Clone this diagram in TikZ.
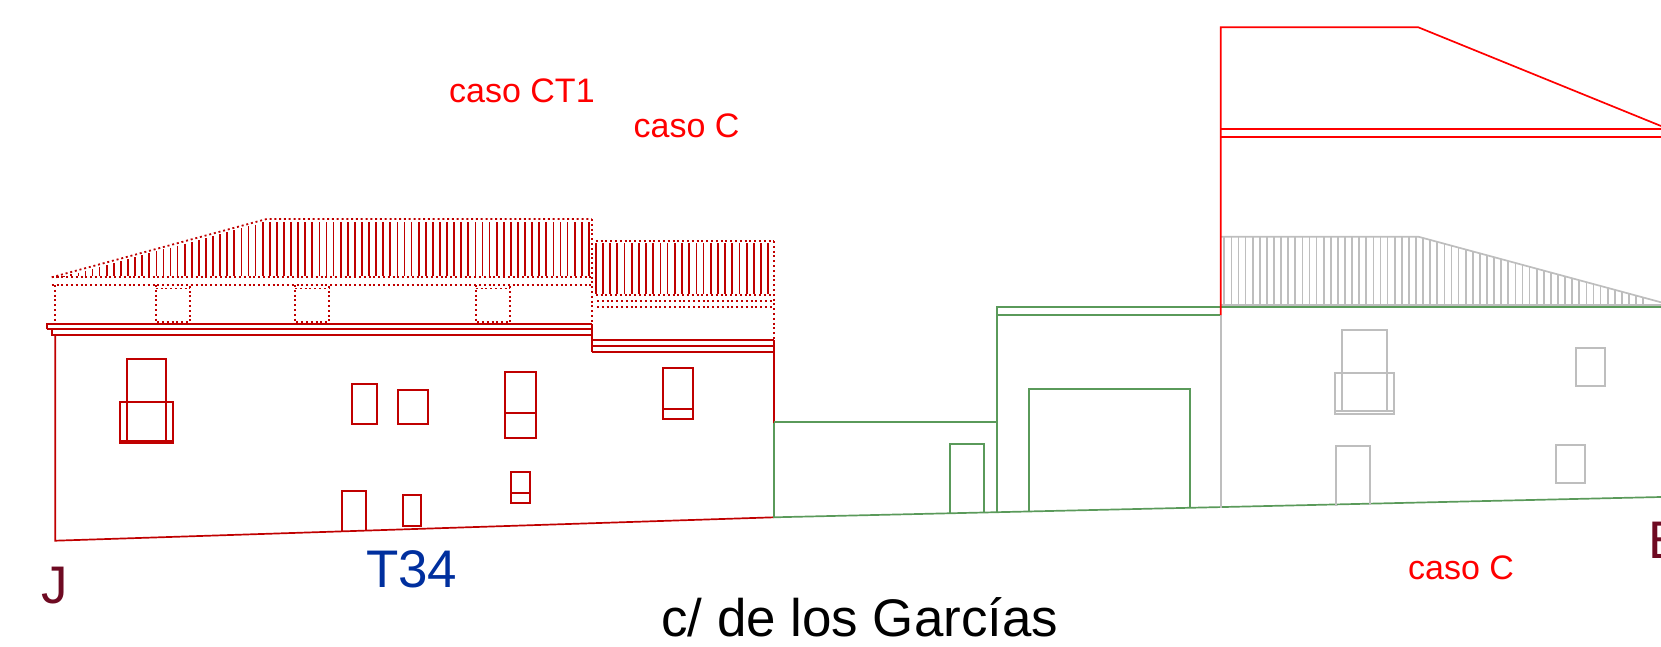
\documentclass[tikz,border=0pt]{standalone}
\usepackage{fontspec}
\setmainfont{Liberation Sans}
\definecolor{muroRojo}{HTML}{C00000}
\definecolor{casoRojo}{HTML}{FF0000}
\definecolor{muroVerde}{HTML}{5A9A5A}
\definecolor{muroGris}{HTML}{BEBEBE}
\definecolor{letraAzul}{HTML}{002F9E}
\definecolor{letraGrana}{HTML}{6E0A22}
\tikzset{
  rojo/.style={draw=muroRojo, line width=1.7pt},
  rojopunto/.style={draw=muroRojo, line width=1.8pt, dash pattern=on 2pt off 2.8pt},
  verde/.style={draw=muroVerde, line width=1.7pt},
  gris/.style={draw=muroGris, line width=1.7pt},
  volumen/.style={draw=casoRojo, line width=1.7pt},
  caso/.style={text=casoRojo, inner sep=0pt, anchor=base west, font=\fontsize{34}{36}\selectfont},
  rotulo/.style={inner sep=0pt, anchor=base west, font=\fontsize{52.9}{56}\selectfont},
}
\begin{document}
\begin{tikzpicture}[x=1pt,y=-1pt]
\useasboundingbox (0,0) rectangle (1661,647);

% casa J, cuerpo izquierdo
\draw[rojo] (55.3,334.7) -- (55.3,540.7) -- (774,517.3);
\draw[rojo] (47.3,329.3) -- (47.3,324) -- (591.7,324);
\draw[rojo] (47.3,329.3) -- (591.7,329.3);
\draw[rojo] (51.7,329.3) -- (51.7,334.7) -- (591.7,334.7);
\draw[rojo] (591.7,324) -- (591.7,351.7);
\draw[rojo] (591.7,340.3) -- (774,340.3);
\draw[rojo] (591.7,346) -- (774,346);
\draw[rojo] (591.7,351.7) -- (774,351.7);
\draw[rojo] (774,340.3) -- (774,423);

% cubierta de puntos
\draw[rojopunto] (51.7,277.3) -- (266.7,219) -- (591.7,219);
\draw[rojopunto] (51.7,277.3) -- (591.7,277.3);
\draw[rojopunto] (51.7,285) -- (591.7,285);
\draw[rojopunto] (55.3,285) -- (55.3,324);
\draw[rojopunto] (591.7,219) -- (591.7,324);
\draw[rojopunto] (595.7,241) -- (774,241);
\draw[rojopunto] (595.7,295) -- (774,295);
\draw[rojopunto] (597,301) -- (774,301);
\draw[rojopunto] (597,306.7) -- (774,306.7);
\draw[rojopunto] (774,241) -- (774,340.3);
\foreach \xa/\xb in {155.7/190, 295/329.3, 475.7/510.3} {
  \draw[rojopunto] (\xa,285) -- (\xa,322) -- (\xb,322) -- (\xb,285);
  \draw[rojopunto] (\xa,288.5) -- (\xb,288.5);
}
\foreach \k in {0,...,46} {
  \pgfmathsetmacro\hx{262.7+7.09*(\k-0)}
  \draw[rojo] (\hx,222) -- (\hx,276);
}
\foreach \k in {1,...,29} {
  \pgfmathsetmacro\hx{262.7-7.09*\k}
  \pgfmathsetmacro\hy{277.3-(\hx-51.7)*0.2712}
  \draw[rojo] (\hx,\hy+2.5) -- (\hx,276);
}
\foreach \k in {0,...,24} {
  \pgfmathsetmacro\hx{595.7+7.19*\k}
  \draw[rojo] (\hx,243) -- (\hx,294);
}

% ventanas de la casa J
\draw[rojo] (127,440.7) -- (127,359) -- (166,359) -- (166,440.7);
\draw[rojo] (120,402.3) rectangle (172.7,443.3);
\draw[rojo] (120,440.7) -- (172.7,440.7);
\draw[rojo] (352,383.7) rectangle (376.7,424);
\draw[rojo] (398.3,390) rectangle (428.3,424);
\draw[rojo] (505.3,372) rectangle (536,438);
\draw[rojo] (505.3,413) -- (536,413);
\draw[rojo] (662.7,368) rectangle (693.3,419.3);
\draw[rojo] (662.7,409) -- (693.3,409);
\draw[rojo] (341.7,530.7) -- (341.7,491.3) -- (366.2,491.3) -- (366.2,530);
\draw[rojo] (403,495) rectangle (421.3,526.3);
\draw[rojo] (511.3,471.7) rectangle (530,502.7);
\draw[rojo] (511.3,493) -- (530,493);

% tramo verde
\draw[verde] (774,423) -- (774,517.3) -- (1661,497);
\draw[verde] (774,422.3) -- (997.3,422.3);
\draw[verde] (997.3,512.2) -- (997.3,307.3) -- (1661,307.3);
\draw[verde] (997.3,315) -- (1220.7,315);
\draw[verde] (950,513.3) -- (950,443.7) -- (984,443.7) -- (984,512.5);
\draw[verde] (1029.3,511.5) -- (1029.3,389) -- (1190,389) -- (1190,508);

% casa E, en gris
\draw[gris] (1220.7,315) -- (1220.7,508);
\draw[gris] (1220.7,305) -- (1661,305);
\draw[gris] (1220.7,236.7) -- (1418.3,236.7) -- (1661,302.3);
\foreach \k in {0,...,59} {
  \pgfmathsetmacro\hx{1224.3+7.1*\k}
  \pgfmathsetmacro\hy{\hx<1418.3 ? 236.7 : 236.7+(\hx-1418.3)*0.2703}
  \draw[gris] (\hx,\hy) -- (\hx,305);
}
\draw[gris] (1342,411) -- (1342,329.7) -- (1387.3,329.7) -- (1387.3,411);
\draw[gris] (1335,373.3) rectangle (1394.3,414);
\draw[gris] (1335,411) -- (1394.3,411);
\draw[gris] (1576.3,347.7) rectangle (1604.7,385.7);
\draw[gris] (1335.7,505.5) -- (1335.7,446) -- (1370.3,446) -- (1370.3,504.5);
\draw[gris] (1556,444.7) rectangle (1584.7,482.7);

% volumen en rojo
\draw[volumen] (1220.7,315) -- (1220.7,27.3) -- (1418.3,27.3) -- (1661,126);
\draw[volumen] (1220.7,129) -- (1661,129);
\draw[volumen] (1220.7,136.7) -- (1661,136.7);

% rotulos
\node[caso] (casoCT) at (449,103) {caso CT1};
\node[caso] (casoCa) at (633.5,138) {caso C};
\node[caso] (casoCb) at (1408,579.3) {caso C};
\node[rotulo, text=letraGrana] (letraJ) at (41,603.5) {J};
\node[rotulo, text=letraAzul] (letraT) at (366,587.7) {T34};
\node[rotulo, text=letraGrana] (letraE) at (1648.6,558.3) {E};
\node[rotulo] (calle) at (661,636) {c/ de los Garcías};
\end{tikzpicture}
\end{document}
